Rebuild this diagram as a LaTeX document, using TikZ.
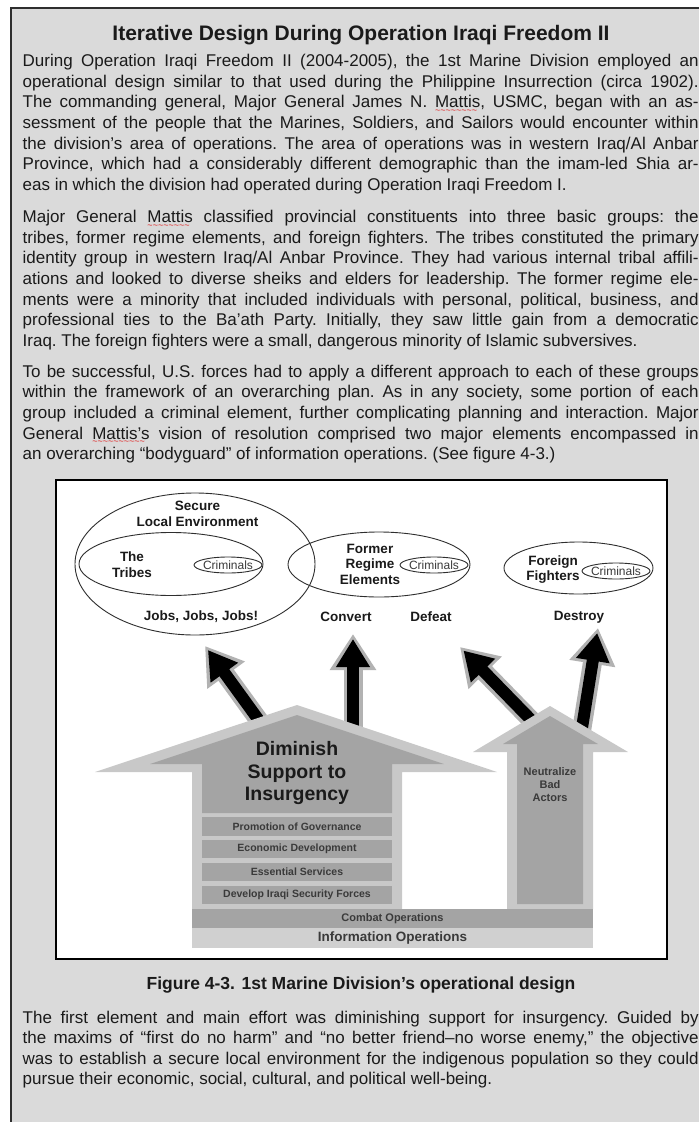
\documentclass[tikz,border=0pt]{standalone}
\usepackage{fontspec}
\setmainfont{Liberation Sans}
\usepackage{tikz}
\usepackage{xcolor}
\usetikzlibrary{arrows.meta,positioning,shapes.geometric}
\setlength{\parindent}{0pt}
\definecolor{PageGray}{HTML}{DADADA}
\definecolor{PageBorder}{HTML}{2E2E2E}
\definecolor{BodyInk}{HTML}{1A1A1A}
\definecolor{ArrowLight}{HTML}{C8C8C8}
\definecolor{ArrowDark}{HTML}{A4A4A4}
\definecolor{InfoOpsGray}{HTML}{D0D0D0}
\definecolor{HaloGray}{HTML}{B2B2B2}
\definecolor{BarInk}{HTML}{3A3A3A}
\definecolor{SpellRed}{HTML}{E02424}
\newcommand{\BodySpacing}{\frenchspacing\spaceskip 4.7pt plus 8pt minus 1.6pt\relax\tolerance 10000\relax\hyphenpenalty 10000\relax\exhyphenpenalty 10000\relax}
\tikzstyle{TitleText} =[anchor=base,inner sep=0pt,text=BodyInk,font=\fontsize{21pt}{24pt}\selectfont\bfseries]
\tikzstyle{BodyText} =[anchor=base west,inner sep=0pt,text width=676pt,align=justify,text=BodyInk,font=\fontsize{17pt}{20.6pt}\selectfont\BodySpacing]
\tikzstyle{CaptionText} =[anchor=base,inner sep=0pt,text=BodyInk,font=\fontsize{17.5pt}{20pt}\selectfont\bfseries]
\tikzstyle{GroupEllipse} =[draw=PageBorder,ellipse,line width=0.9pt,inner sep=0pt]
\tikzstyle{CriminalsEllipse} =[draw=PageBorder,ellipse,line width=0.9pt,inner ysep=0pt,inner xsep=-4pt,minimum width=68pt,minimum height=16pt,text=BarInk,font=\fontsize{12pt}{13pt}\selectfont]
\tikzstyle{GroupLabel} =[align=center,inner sep=0pt,text=BodyInk,font=\fontsize{13.5pt}{15.5pt}\selectfont\bfseries]
\tikzstyle{DiminishLabel} =[align=center,inner sep=0pt,text=BodyInk,font=\fontsize{19.5pt}{22.5pt}\selectfont\bfseries]
\tikzstyle{NeutralizeLabel} =[align=center,inner sep=0pt,text=BarInk,font=\fontsize{11pt}{13pt}\selectfont\bfseries]
\tikzstyle{StepBar} =[fill=ArrowDark,minimum width=190pt,minimum height=18.5pt,inner sep=0pt,text=BarInk,font=\fontsize{10.5pt}{12pt}\selectfont\bfseries]
\tikzstyle{CombatBar} =[fill=ArrowDark,minimum width=401pt,minimum height=19pt,inner sep=0pt,text=BarInk,font=\fontsize{11pt}{13pt}\selectfont\bfseries]
\tikzstyle{InfoBar} =[fill=InfoOpsGray,minimum width=401pt,minimum height=20pt,inner sep=0pt,text=BarInk,font=\fontsize{13.5pt}{15pt}\selectfont\bfseries]
\tikzstyle{ArrowHalo} =[draw=HaloGray,line width=19pt,-{Triangle[length=36pt,width=44pt]}]
\tikzstyle{ArrowCore} =[draw=black,line width=12pt,-{Triangle[length=28pt,width=32pt]},shorten >=5pt]
\newcommand{\FullLine}[1]{#1\linebreak}
\newcommand{\SpellMark}[1]{\setbox0\hbox{#1}\rlap{\color{SpellRed}\raisebox{-5.5pt}{\hbox to \wd0{\leaders\hbox{\fontsize{9pt}{9pt}\selectfont\char`\~}\hfill}}}#1}

\begin{document}
\begin{tikzpicture}[x=1pt,y=-1pt]
    \useasboundingbox (0,0) rectangle (699,1122);
    \fill[PageGray] (11,8) rectangle (699,1122);
    \draw[PageBorder,line width=1.5pt] (11,1122) -- (11,8) -- (699,8);

    \node[TitleText](Title) at (361,40){Iterative Design During Operation Iraqi Freedom II};

    \node[BodyText](Paragraph-One) at (22.5,66.7){%
        \FullLine{During Operation Iraqi Freedom II (2004-2005), the 1st Marine Division employed an}
        \FullLine{operational design similar to that used during the Philippine Insurrection (circa 1902).}
        \FullLine{The commanding general, Major General James N. \SpellMark{Mattis}, USMC, began with an as-}
        \FullLine{sessment of the people that the Marines, Soldiers, and Sailors would encounter within}
        \FullLine{the division’s area of operations. The area of operations was in western Iraq/Al Anbar}
        \FullLine{Province, which had a considerably different demographic than the imam-led Shia ar-}
        eas in which the division had operated during Operation Iraqi Freedom I.};

    \node[BodyText](Paragraph-Two) at (22.5,222.7){%
        \FullLine{Major General \SpellMark{Mattis} classified provincial constituents into three basic groups: the}
        \FullLine{tribes, former regime elements, and foreign fighters. The tribes constituted the primary}
        \FullLine{identity group in western Iraq/Al Anbar Province. They had various internal tribal affili-}
        \FullLine{ations and looked to diverse sheiks and elders for leadership. The former regime ele-}
        \FullLine{ments were a minority that included individuals with personal, political, business, and}
        \FullLine{professional ties to the Ba’ath Party. Initially, they saw little gain from a democratic}
        Iraq. The foreign fighters were a small, dangerous minority of Islamic subversives.};

    \node[BodyText](Paragraph-Three) at (22.5,377.2){%
        \FullLine{To be successful, U.S. forces had to apply a different approach to each of these groups}
        \FullLine{within the framework of an overarching plan. As in any society, some portion of each}
        \FullLine{group included a criminal element, further complicating planning and interaction. Major}
        \FullLine{General \SpellMark{Mattis’s} vision of resolution comprised two major elements encompassed in}
        an overarching “bodyguard” of information operations. (See figure 4-3.)};

    % figure 4-3
    \node[draw=black,line width=1.2pt,fill=white,minimum width=611pt,minimum height=479pt,inner sep=0pt](Figure-Frame) at (361.5,719.5){};

    \coordinate (Tribes-Arrow-Tail) at (263,726);
    \coordinate (Tribes-Arrow-Tip) at (205,646);
    \coordinate (Convert-Arrow-Tail) at (353,732);
    \coordinate (Convert-Arrow-Tip) at (353,634);
    \coordinate (Defeat-Arrow-Tail) at (538,727);
    \coordinate (Defeat-Arrow-Tip) at (460,647);
    \coordinate (Destroy-Arrow-Tail) at (581,734);
    \coordinate (Destroy-Arrow-Tip) at (598,628);
    \draw[ArrowHalo] (Tribes-Arrow-Tail) -- (Tribes-Arrow-Tip);
    \draw[ArrowCore] (Tribes-Arrow-Tail) -- (Tribes-Arrow-Tip);
    \draw[ArrowHalo] (Convert-Arrow-Tail) -- (Convert-Arrow-Tip);
    \draw[ArrowCore] (Convert-Arrow-Tail) -- (Convert-Arrow-Tip);
    \draw[ArrowHalo] (Defeat-Arrow-Tail) -- (Defeat-Arrow-Tip);
    \draw[ArrowCore] (Defeat-Arrow-Tail) -- (Defeat-Arrow-Tip);
    \draw[ArrowHalo] (Destroy-Arrow-Tail) -- (Destroy-Arrow-Tip);
    \draw[ArrowCore] (Destroy-Arrow-Tail) -- (Destroy-Arrow-Tip);

    % main effort house and the neutralize arrow
    \fill[ArrowLight] (95,772) -- (297,705) -- (497,772) -- (402,772) -- (402,909) -- (192,909) -- (192,772) -- cycle;
    \fill[ArrowDark] (150,764) -- (297,715) -- (444,764) -- (392,764) -- (392,813) -- (202,813) -- (202,764) -- cycle;
    \fill[ArrowLight] (473,752) -- (550,706) -- (628,752) -- (593,752) -- (593,909) -- (507,909) -- (507,752) -- cycle;
    \fill[ArrowDark] (503,744) -- (550,716) -- (598,744) -- (583,744) -- (583,904) -- (517,904) -- (517,744) -- cycle;

    \node[DiminishLabel](Diminish-Support) at (297,773){Diminish\\Support to\\Insurgency};
    \node[StepBar](Promotion-of-Governance) at (297,826.25){Promotion of Governance};
    \node[StepBar,below=4pt of Promotion-of-Governance](Economic-Development){Economic Development};
    \node[StepBar,below=4pt of Economic-Development](Essential-Services){Essential Services};
    \node[StepBar,below=4pt of Essential-Services](Develop-Iraqi-Security-Forces){Develop Iraqi Security Forces};
    \node[NeutralizeLabel](Neutralize-Bad-Actors) at (550,785){Neutralize\\Bad\\Actors};
    \node[CombatBar](Combat-Operations) at (392.5,918.5){Combat Operations};
    \node[InfoBar,below=0pt of Combat-Operations](Information-Operations){Information Operations};

    % groups
    \node[GroupEllipse,minimum width=240pt,minimum height=142pt](Secure-Environment) at (195,564){};
    \node[GroupLabel](Secure-Label) at (197.5,514){Secure\\Local Environment};
    \node[GroupEllipse,minimum width=184pt,minimum height=63pt](The-Tribes) at (171,564){};
    \node[GroupLabel](Tribes-Label) at (132,564.5){The\\Tribes};
    \node[CriminalsEllipse](Tribes-Criminals) at (228,565){Criminals};
    \node[GroupEllipse,minimum width=182pt,minimum height=65pt](Former-Regime) at (379,564.5){};
    \node[GroupLabel](Regime-Label) at (370,564){Former\\Regime\\Elements};
    \node[CriminalsEllipse](Regime-Criminals) at (434,565){Criminals};
    \node[GroupEllipse,minimum width=149pt,minimum height=52pt](Foreign-Fighters) at (578.5,568){};
    \node[GroupLabel](Foreign-Label) at (553,569.5){Foreign\\Fighters};
    \node[CriminalsEllipse](Foreign-Criminals) at (616,571){Criminals};

    \node[GroupLabel](Jobs-Label) at (201,617){Jobs, Jobs, Jobs!};
    \node[GroupLabel](Convert-Label) at (346,617){Convert};
    \node[GroupLabel](Defeat-Label) at (431,617){Defeat};
    \node[GroupLabel](Destroy-Label) at (579,617){Destroy};

    \node[CaptionText](Figure-Caption) at (361,989){Figure 4-3. 1st Marine Division’s operational design};

    \node[BodyText](Paragraph-Four) at (22.5,1023){%
        \FullLine{The first element and main effort was diminishing support for insurgency. Guided by}
        \FullLine{the maxims of “first do no harm” and “no better friend–no worse enemy,” the objective}
        \FullLine{was to establish a secure local environment for the indigenous population so they could}
        pursue their economic, social, cultural, and political well-being.};
\end{tikzpicture}
\end{document}
